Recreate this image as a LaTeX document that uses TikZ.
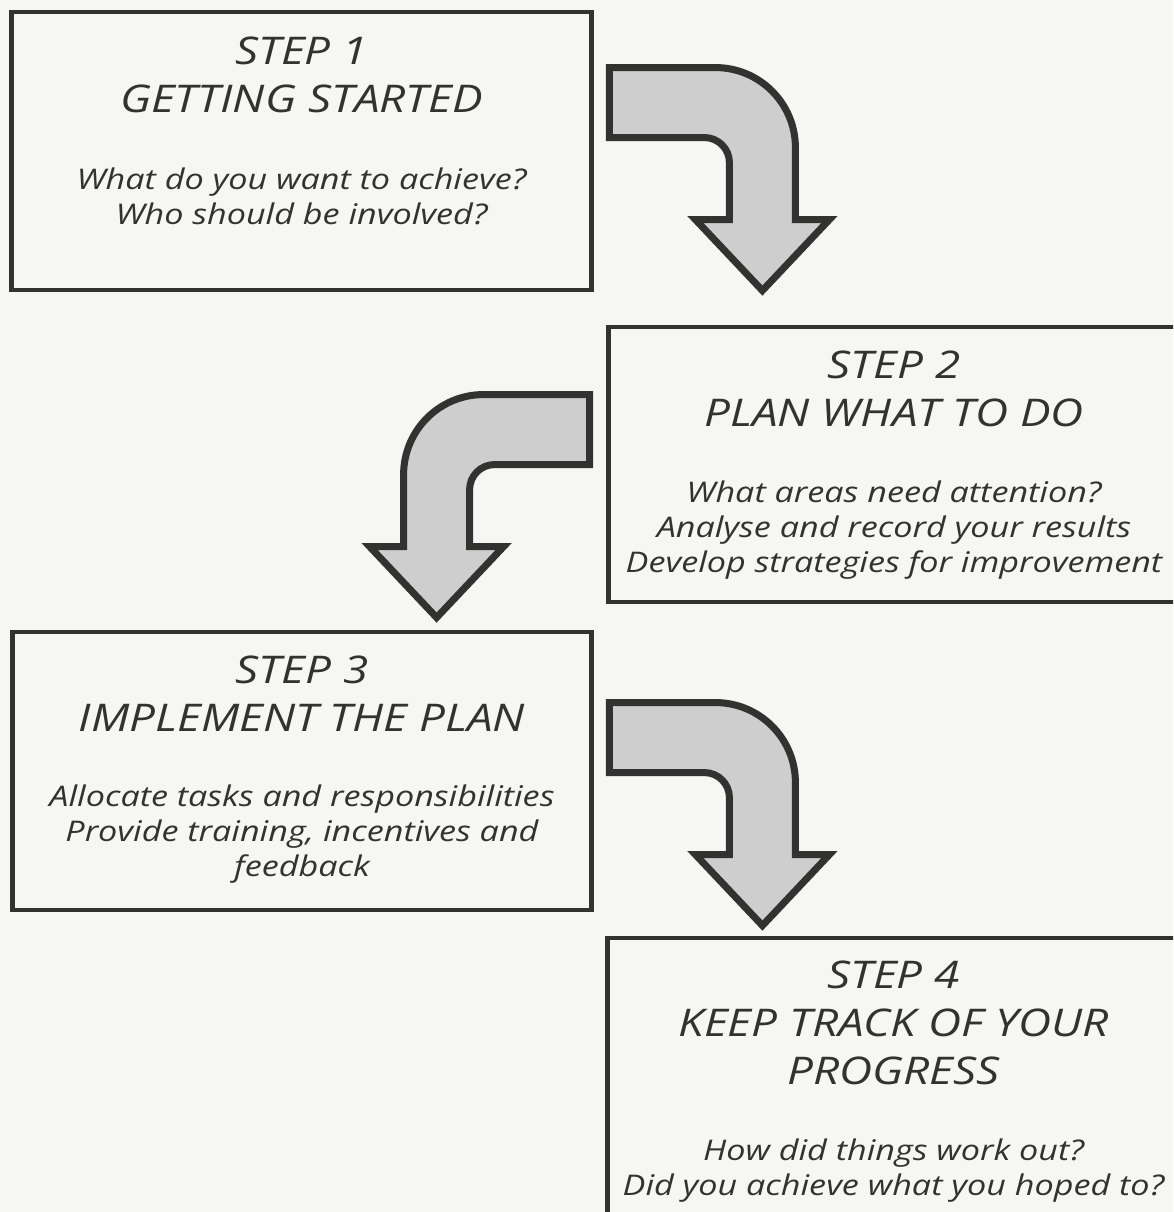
\documentclass[tikz,border=0pt]{standalone}
\usepackage{fontspec}
\setmainfont{Open Sans}[FakeStretch=1.2]
\usetikzlibrary{positioning,calc}

\definecolor{paper}{RGB}{246,246,244}
\definecolor{ink}{RGB}{50,50,48}
\definecolor{arrowgray}{RGB}{206,206,206}

\tikzset{
  stepbox/.style={draw=ink, line width=2.8pt, inner sep=0pt},
  steptitle/.style={text=ink, font=\fontsize{21.7}{27.3}\selectfont\itshape, align=center, inner sep=0pt},
  stepbody/.style={text=ink, font=\fontsize{16.2}{19.9}\selectfont\itshape, align=center, inner sep=0pt},
  turnarrow/.style={draw=ink, line width=4pt, fill=arrowgray, line join=miter},
  pics/bend/.style={code={
      \draw[turnarrow] (0,0) -- (106,0) arc[start angle=-90, end angle=0, radius=80]
        -- (186,152) -- (220,152) -- (153,223) -- (86,152) -- (120,152) -- (120,95)
        arc[start angle=0, end angle=-90, radius=25] -- (0,70) -- cycle;
  }}
}

\begin{document}
\begin{tikzpicture}[x=0.02cm, y=-0.02cm]
  % page
  \useasboundingbox (0,0) rectangle (1173,1212);
  \clip (0,0) rectangle (1173,1212);
  \fill[paper] (0,0) rectangle (1173,1212);

  % Step boxes - 2 and 4 run off the right edge
  \node[stepbox, minimum width=11.62cm, minimum height=5.56cm] (s1) at (301.5,151) {};
  \node[stepbox, minimum width=11.44cm, minimum height=5.5cm] (s2) at (894,464.5) {};
  \node[stepbox, minimum width=11.6cm, minimum height=5.56cm] (s3) at (302,771) {};
  \node[stepbox, minimum width=11.46cm, minimum height=5.54cm] (s4) at (893.5,1076.5) {};

  % Titles
  \node[steptitle, below=0.54cm of s1.north] (h1) {STEP 1\\GETTING STARTED};
  \node[steptitle, below=0.52cm of s2.north] (h2) {STEP 2\\PLAN WHAT TO DO};
  \node[steptitle, below=0.52cm of s3.north] (h3) {STEP 3\\IMPLEMENT THE PLAN};
  \node[steptitle, below=0.5cm of s4.north] (h4) {STEP 4\\KEEP TRACK OF YOUR\\PROGRESS};

  % Questions
  \node[stepbody, below=1.08cm of h1] (b1) {What do you want to achieve?\\Who should be involved?};
  \node[stepbody, below=1.06cm of h2] (b2) {What areas need attention?\\Analyse and record your results\\Develop strategies for improvement};
  \node[stepbody, below=1.06cm of h3] (b3) {Allocate tasks and responsibilities\\Provide training, incentives and\\feedback};
  \node[stepbody, below=1.06cm of h4] (b4) {How did things work out?\\Did you achieve what you hoped to?};

  % Bent arrows between the steps
  \pic at ($(s1.north east)+(15,58)$) {bend};
  \pic[xscale=-1] at ($(s2.north west)+(-16,70)$) {bend};
  \pic at ($(s3.north east)+(15,73)$) {bend};
\end{tikzpicture}
\end{document}
